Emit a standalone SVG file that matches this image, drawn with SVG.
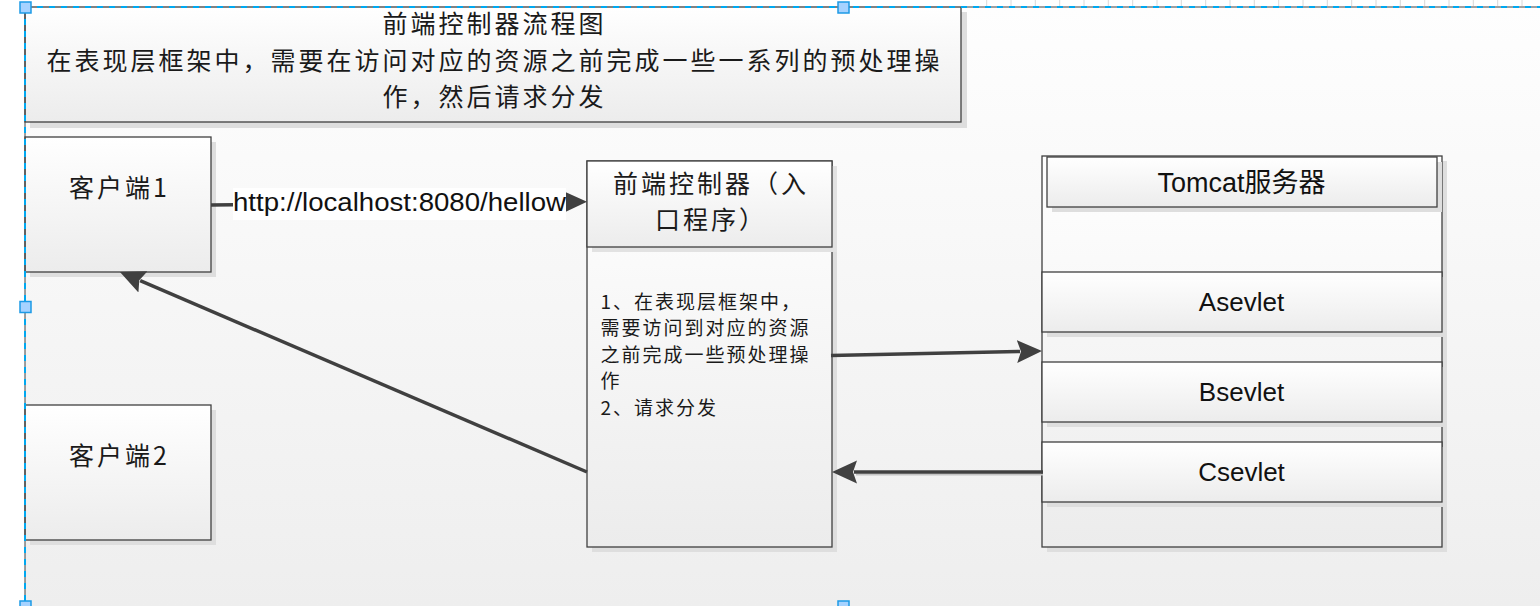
<svg xmlns="http://www.w3.org/2000/svg" width="1540" height="606" viewBox="0 0 1540 606">
<style>
.box{stroke:#404040;stroke-width:1.3;fill:url(#fill)}
.sh{fill:#dedede}
.cjk{font-family:"Noto Sans CJK SC","Liberation Sans",sans-serif;fill:#1a1a1a}
.lat{font-family:"Liberation Sans","Noto Sans CJK SC",sans-serif;fill:#111}
.conn{stroke:#404040;stroke-width:3.5;fill:none}
.sel{stroke:#00a8f0;stroke-width:2;stroke-dasharray:6 6;fill:none}
.edge{stroke:#404040;stroke-width:1;fill:none}
.hd{fill:#a6d2ff;stroke:#1c9ae6;stroke-width:1.5}
</style>
<defs>
<linearGradient id="bg" x1="0" y1="0" x2="0" y2="1"><stop offset="0" stop-color="#fefefe"/><stop offset="1" stop-color="#eeeeee"/></linearGradient>
<linearGradient id="fill" x1="0" y1="0" x2="0" y2="1"><stop offset="0" stop-color="#ffffff"/><stop offset="1" stop-color="#ececec"/></linearGradient>
<marker id="ah" markerUnits="userSpaceOnUse" markerWidth="26" markerHeight="24" viewBox="0 0 26 24" refX="3" refY="12" orient="auto"><path d="M0,0.5 L25,12 L0,23.5 L4,12 z" fill="#404040"/></marker>
</defs>
<rect x="0" y="0" width="1540" height="606" fill="#ffffff"/>
<rect x="25" y="7" width="1515" height="599" fill="url(#bg)"/>
<path d="M986.7,0v6M1011,0v6M1035.3,0v6M1059.7,0v6M1084,0v6M1108.3,0v6M1132.7,0v6M1157,0v6M1181.3,0v6M1205.7,0v6M1230,0v6M1254.3,0v6M1278.7,0v6M1303,0v6M1327.3,0v6M1351.7,0v6M1376,0v6M1400.3,0v6M1424.7,0v6M1449,0v6M1473.3,0v6M1497.7,0v6M1522,0v6" stroke="#d8d8d8" stroke-width="1"/>

<g id="title">
<rect class="sh" x="30" y="12" width="937" height="116"/>
<rect class="box" x="25" y="7" width="936" height="115"/>
<g class="cjk" font-size="25" letter-spacing="3" text-anchor="middle">
<text x="494.5" y="33">前端控制器流程图</text>
<text x="494.5" y="69.5">在表现层框架中，需要在访问对应的资源之前完成一些一系列的预处理操</text>
<text x="494.5" y="106">作，然后请求分发</text>
</g>
</g>

<g id="client1">
<rect class="sh" x="30" y="142" width="186" height="135"/>
<rect class="box" x="25" y="137" width="186" height="135"/>
<text class="cjk" font-size="25" letter-spacing="3" text-anchor="middle" x="119.5" y="197">客户端1</text>
</g>

<g id="client2">
<rect class="sh" x="30" y="410" width="186" height="135"/>
<rect class="box" x="25" y="405" width="186" height="135"/>
<text class="cjk" font-size="25" letter-spacing="3" text-anchor="middle" x="119.5" y="465">客户端2</text>
</g>

<g id="frontController">
<rect class="sh" x="592" y="166" width="245" height="386"/>
<rect class="box" x="587" y="161" width="245" height="386"/>
<rect fill="#e2e2e2" x="592" y="166" width="245" height="86"/>
<rect class="box" x="587" y="161" width="245" height="86"/>
<g class="cjk" font-size="25" letter-spacing="3" text-anchor="middle">
<text x="711" y="192.5">前端控制器（入</text>
<text x="711" y="228.8">口程序）</text>
</g>
<g class="cjk" font-size="19" letter-spacing="2">
<text x="600.5" y="308.5">1、在表现层框架中，</text>
<text x="600.5" y="335">需要访问到对应的资源</text>
<text x="600.5" y="361.5">之前完成一些预处理操</text>
<text x="600.5" y="388">作</text>
<text x="600.5" y="414.5">2、请求分发</text>
</g>
</g>

<g id="tomcat">
<rect class="sh" x="1047" y="161" width="400" height="391"/>
<rect class="box" x="1042" y="156" width="400" height="391"/>
<rect class="sh" x="1052" y="162" width="390" height="50"/>
<rect class="box" x="1047" y="157" width="390" height="50"/>
<text class="lat" font-size="27" text-anchor="middle" x="1241.5" y="192">Tomcat服务器</text>
</g>

<g id="asevlet">
<rect class="sh" x="1047" y="277" width="400" height="60"/>
<rect class="box" x="1042" y="272" width="400" height="60"/>
<text class="lat" font-size="26" text-anchor="middle" x="1241.5" y="310.7">Asevlet</text>
</g>

<g id="bsevlet">
<rect class="sh" x="1047" y="367" width="400" height="60"/>
<rect class="box" x="1042" y="362" width="400" height="60"/>
<text class="lat" font-size="26" text-anchor="middle" x="1241.5" y="400.7">Bsevlet</text>
</g>

<g id="csevlet">
<rect class="sh" x="1047" y="447" width="400" height="60"/>
<rect class="box" x="1042" y="442" width="400" height="60"/>
<text class="lat" font-size="26" text-anchor="middle" x="1241.5" y="480.7">Csevlet</text>
</g>

<g id="connectors">
<path class="conn" d="M211,205 L565,202" marker-end="url(#ah)"/>
<rect x="233" y="188" width="333" height="32" fill="#ffffff"/>
<text class="lat" font-size="26" x="233" y="211" textLength="333" lengthAdjust="spacingAndGlyphs">http://localhost:8080/hellow</text>
<path class="conn" d="M831,355.5 L1020,351.5" marker-end="url(#ah)"/>
<path stroke="#c4c4c4" stroke-width="2" fill="none" d="M856,474.5 L1043,474.5"/>
<path class="conn" d="M1043,472 L854,472" marker-end="url(#ah)"/>
<path class="conn" d="M587,472 L140.2,280.7" marker-end="url(#ah)"/>
</g>

<g id="selection">
<path class="edge" d="M25,7 V606 M961,7 H1540"/>
<path class="sel" d="M25,7 V606"/>
<path class="sel" d="M25,7 H1540"/>
<rect class="hd" x="20" y="2" width="11" height="11"/>
<rect class="hd" x="838" y="2" width="11" height="11"/>
<rect class="hd" x="20" y="301.5" width="11" height="11"/>
<rect class="hd" x="20" y="601" width="11" height="11"/>
<rect class="hd" x="838" y="601" width="11" height="11"/>
</g>
</svg>
